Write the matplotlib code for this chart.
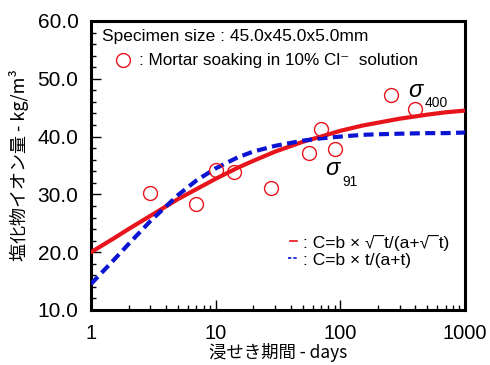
import numpy as np
import matplotlib
matplotlib.use("Agg")
import matplotlib.pyplot as plt
from matplotlib.lines import Line2D
from matplotlib.ticker import FixedLocator, FuncFormatter, MultipleLocator, LogLocator, NullFormatter

# measured chloride content (days, kg/m3)
days = [3, 7, 10, 14, 28, 56, 70, 91, 256, 400]
chloride = [30.3, 28.3, 34.3, 33.8, 31.1, 37.1, 41.3, 37.8, 47.2, 44.7]

# fitted curves
t_fit = [1, 1.5, 2, 3, 5, 7, 10, 15, 20, 30, 50, 70, 100, 150, 200, 300, 500, 700, 1000]
c_sqrt = [20.0, 22.3, 24.0, 26.3, 29.2, 30.9, 32.7, 34.6, 35.8, 37.4, 39.1, 40.0,
          41.0, 41.9, 42.4, 43.1, 43.8, 44.2, 44.5]
c_lin = [14.5, 18.5, 21.4, 25.4, 29.9, 32.4, 34.5, 36.4, 37.4, 38.4, 39.3, 39.7,
         40.0, 40.3, 40.4, 40.5, 40.6, 40.6, 40.7]

plt.rcParams['font.family'] = ['Liberation Sans', 'DejaVu Sans']
jp = ['Noto Sans CJK JP', 'DejaVu Sans']

fig = plt.figure(figsize=(4.9, 3.65), dpi=100)
ax = fig.add_axes([0.1857, 0.1507, 0.7633, 0.7918])

ax.plot(t_fit, c_sqrt, color='#e8141c', lw=3.0, zorder=3)
ax.plot(t_fit, c_lin, color='#0a14d2', lw=3.0, dashes=(2.4, 1.3), zorder=3)
ax.plot(days, chloride, 'o', ms=10, mfc='none', mec='#e8141c', mew=1.0, zorder=4)

ax.set_xscale('log')
ax.set_xlim(1, 1000)
ax.set_ylim(10, 60)
ax.xaxis.set_major_locator(FixedLocator([1, 10, 100, 1000]))
ax.xaxis.set_major_formatter(FuncFormatter(lambda v, p: '%d' % v))
ax.xaxis.set_minor_locator(LogLocator(base=10, subs=np.arange(2, 10)))
ax.xaxis.set_minor_formatter(NullFormatter())
ax.yaxis.set_major_locator(MultipleLocator(10))
ax.yaxis.set_minor_locator(MultipleLocator(2))
ax.yaxis.set_major_formatter(FuncFormatter(lambda v, p: '%.1f' % v))

ax.tick_params(which='both', direction='in', top=False, right=False, labelsize=15)
ax.tick_params(which='major', length=7, width=1)
ax.tick_params(which='minor', length=3.5, width=1)
ax.tick_params(axis='y', pad=9)
ax.tick_params(axis='x', pad=10, labelsize=14.5)
for s in ax.spines.values():
    s.set_linewidth(2.2)

ax.set_ylabel('塩化物イオン量 - kg/m³', family=jp, fontsize=13, labelpad=6)
ax.set_xlabel('浸せき期間 - days', family=jp, fontsize=12.5, labelpad=0)

# notes
ax.text(0.029, 0.932, 'Specimen size : 45.0x45.0x5.0mm', transform=ax.transAxes, fontsize=12.5)
ax.add_line(Line2D([0.0856], [0.865], marker='o', ms=10, mfc='none', mec='#e8141c',
                   mew=1.0, transform=ax.transAxes))
ax.text(0.128, 0.848, ': Mortar soaking in 10% Cl⁻  solution', transform=ax.transAxes,
        fontsize=12.3)

ax.text(0.848, 0.737, 'σ', transform=ax.transAxes, fontsize=17, style='italic')
ax.text(0.893, 0.702, '400', transform=ax.transAxes, fontsize=10)
ax.text(0.626, 0.467, 'σ', transform=ax.transAxes, fontsize=17, style='italic')
ax.text(0.671, 0.429, '91', transform=ax.transAxes, fontsize=10)

# legend
ax.add_line(Line2D([0.532, 0.551], [0.239, 0.239], color='#e8141c', lw=1.2,
                   transform=ax.transAxes))
ax.add_line(Line2D([0.527, 0.553], [0.180, 0.180], color='#0a14d2', lw=1.2,
                   dashes=(2, 1.2), transform=ax.transAxes))
ax.text(0.567, 0.215, ': C=b × √¯t/(a+√¯t)', transform=ax.transAxes, fontsize=12.5)
ax.text(0.567, 0.156, ': C=b × t/(a+t)', transform=ax.transAxes, fontsize=12.5)

plt.savefig('out.png', dpi=100)
